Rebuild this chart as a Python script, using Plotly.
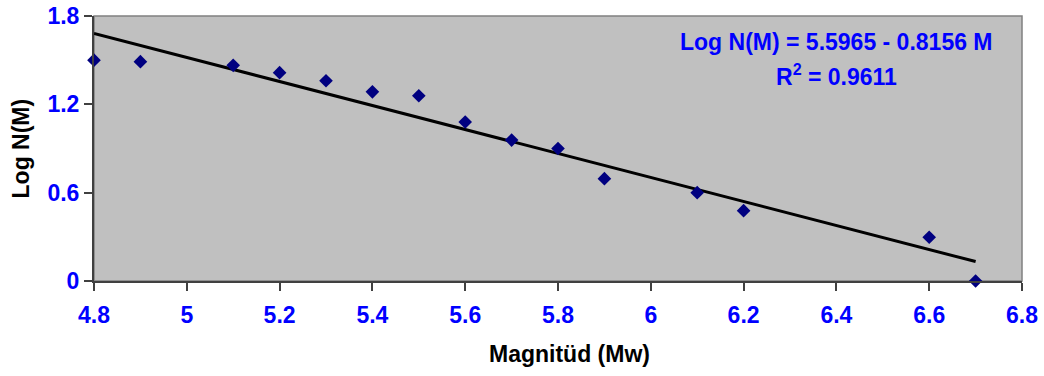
import plotly.graph_objects as go

magnitude = [4.8, 4.9, 5.1, 5.2, 5.3, 5.4, 5.5, 5.6, 5.7, 5.8, 5.9, 6.1, 6.2, 6.6, 6.7]
log_n = [1.50, 1.49, 1.465, 1.415, 1.36, 1.285, 1.258, 1.08, 0.957, 0.90, 0.695, 0.60, 0.478, 0.297, 0.0]
intercept = 5.5965
slope = -0.8156
r2 = 0.9611
x_ticks = [4.8, 5.0, 5.2, 5.4, 5.6, 5.8, 6.0, 6.2, 6.4, 6.6, 6.8]
x_tick_text = ["4.8", "5", "5.2", "5.4", "5.6", "5.8", "6", "6.2", "6.4", "6.6", "6.8"]
y_ticks = [0, 0.6, 1.2, 1.8]
y_tick_text = ["0", "0.6", "1.2", "1.8"]

FONT = "Arial, 'Liberation Sans', sans-serif"
BLUE = "#0000FF"
FS = 23

trend_x = [min(magnitude), max(magnitude)]
trend_y = [intercept + slope * v for v in trend_x]

fig = go.Figure()
fig.add_trace(go.Scatter(x=trend_x, y=trend_y, mode="lines",
                         line=dict(color="black", width=3), hoverinfo="skip"))
fig.add_trace(go.Scatter(x=magnitude, y=log_n, mode="markers",
                         marker=dict(symbol="diamond", size=10.5, color="#000080",
                                     line=dict(width=0)),
                         cliponaxis=False))

fig.update_layout(
    width=1044, height=376,
    margin=dict(l=94, r=22, t=16, b=95, autoexpand=False),
    paper_bgcolor="white", plot_bgcolor="#C0C0C0",
    showlegend=False,
    font=dict(family=FONT, size=FS),
    shapes=[dict(type="rect", xref="paper", yref="paper", x0=0, y0=0, x1=1, y1=1,
                 line=dict(color="#808080", width=1.5), layer="below")],
    annotations=[
        dict(text="Log N(M) = 5.5965 - 0.8156 M", xref="x", yref="y", x=6.401, y=1.624,
             showarrow=False, font=dict(family=FONT, size=FS, color=BLUE, weight="bold"),
             xanchor="center", yanchor="middle"),
        dict(text="R<sup>2</sup> = 0.9611", xref="x", yref="y", x=6.40, y=1.40,
             showarrow=False, font=dict(family=FONT, size=FS, color=BLUE, weight="bold"),
             xanchor="center", yanchor="middle"),
        dict(text="Magnitüd (Mw)", xref="paper", yref="paper", x=0.512, y=-0.2755,
             showarrow=False, font=dict(family=FONT, size=FS, color="black", weight="bold"),
             xanchor="center", yanchor="middle"),
        dict(text="Log N(M)", xref="paper", yref="paper", x=-0.0787, y=0.5,
             textangle=-90, showarrow=False,
             font=dict(family=FONT, size=FS, color="black", weight="bold"),
             xanchor="center", yanchor="middle"),
    ],
)
fig.update_xaxes(range=[4.8, 6.8], tickvals=x_ticks, ticktext=x_tick_text,
                 showgrid=False, zeroline=False, showline=True, linecolor="#404040",
                 linewidth=2, ticks="outside", ticklen=8, tickcolor="#404040", tickwidth=1.5,
                 tickfont=dict(family=FONT, size=FS, color=BLUE, weight="bold"),
                 ticklabelstandoff=4, automargin=False)
fig.update_yaxes(range=[0, 1.8], tickvals=y_ticks, ticktext=y_tick_text,
                 showgrid=False, zeroline=False, showline=True, linecolor="#404040",
                 linewidth=2, ticks="outside", ticklen=8, tickcolor="#404040", tickwidth=1.5,
                 tickfont=dict(family=FONT, size=FS, color=BLUE, weight="bold"),
                 ticklabelstandoff=0, automargin=False)

fig.write_html("out.html")
